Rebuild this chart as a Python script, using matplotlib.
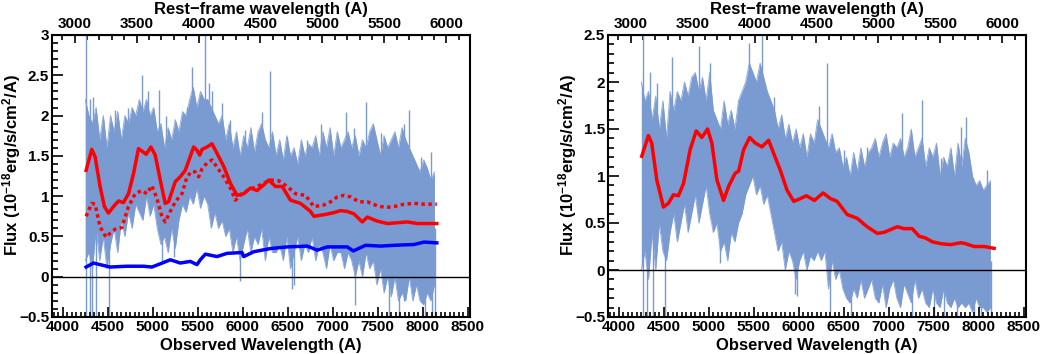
import numpy as np
import matplotlib
matplotlib.use('Agg')
import matplotlib.pyplot as plt
from matplotlib.ticker import MultipleLocator, FixedLocator

plt.rcParams['font.family'] = ['Liberation Sans', 'DejaVu Sans']
plt.rcParams['font.weight'] = 'bold'
plt.rcParams['mathtext.fontset'] = 'custom'
plt.rcParams['mathtext.rm'] = 'Liberation Sans:bold'
plt.rcParams['mathtext.bf'] = 'Liberation Sans:bold'
plt.rcParams['mathtext.default'] = 'bf'

# redshift used for the rest-frame axis on top
z_obj = 0.377
rest_ticks = [3000, 3500, 4000, 4500, 5000, 5500, 6000]

# observed spectrum, sampled every 40 A (upper / lower edge of the dense band)
wave = np.arange(4250, 8131, 40)

left_hi = [2.2, 2.0, 1.9, 2.1, 1.7, 2.0, 1.6, 2.0, 1.8, 2.05,
           1.7, 2.0, 1.9, 2.1, 2.0, 2.2, 2.05, 2.2, 2.0, 2.1,
           1.8, 1.9, 1.6, 1.85, 1.7, 1.95, 1.8, 2.05, 2.0, 2.2,
           2.35, 2.1, 2.3, 2.2, 2.2, 2.1, 2.0, 1.9, 2.0, 1.7,
           1.9, 1.6, 1.8, 1.5, 1.75, 1.6, 1.85, 1.55, 1.8, 1.9,
           1.7, 1.6, 1.8, 1.5, 1.7, 1.45, 1.75, 1.5, 1.6, 1.4,
           1.7, 1.5, 1.65, 1.6, 1.75, 1.5, 1.8, 1.6, 1.85, 1.5,
           1.8, 1.6, 1.7, 1.8, 1.6, 1.75, 1.5, 1.7, 1.6, 1.8,
           1.9, 1.7, 1.5, 1.75, 1.6, 1.7, 1.8, 1.6, 1.85, 1.7,
           1.6, 1.5, 1.4, 1.3, 1.45, 1.35, 1.2, 1.3]
left_lo = [0.2, 0.3, 0.1, 0.6, 0.2, 0.5, 0.1, 0.4, 0.6, 0.3,
           0.7, 0.5, 0.8, 0.6, 0.9, 0.8, 0.7, 1.0, 0.75, 0.9,
           0.6, 0.4, 0.5, 0.3, 0.6, 0.35, 0.7, 0.9, 0.8, 1.0,
           0.9, 1.1, 0.85, 1.0, 0.9, 0.6, 0.8, 0.6, 0.7, 0.5,
           0.6, 0.3, 0.5, 0.2, 0.4, 0.6, 0.3, 0.5, 0.4, 0.6,
           0.2, 0.5, 0.3, 0.3, 0.4, 0.2, 0.5, 0.1, 0.3, 0.5,
           0.2, 0.4, 0.3, 0.5, 0.2, 0.4, 0.3, 0.1, 0.4, 0.2,
           0.3, 0.3, 0.1, 0.3, 0.2, 0.0, 0.2, 0.0, 0.3, 0.1,
           0.2, -0.1, 0.1, -0.2, 0.0, -0.25, 0.0, -0.3, -0.2, -0.3,
           0.0, -0.3, -0.1, -0.3, -0.35, -0.2, -0.3, -0.1]

# thin spikes sticking out of the band (wavelength, one end, other end)
left_spike_w = [4262, 4300, 4340, 4452, 4582, 4730, 4878, 4950, 5071, 5150,
                5380, 5435, 5584, 5620, 5658, 5770, 5862, 6029, 6215, 6300,
                6493, 6716, 6864, 7143, 7236, 7365, 7533, 7792, 7848, 7978,
                8089,
                4330, 4370, 4515, 5101, 5240, 5973, 6549, 6570, 7243, 7620,
                7737, 7790, 8030, 8100, 8140]
left_spike_a = [-0.5, -0.5, 1.0, 0.9, 1.0, 1.0, 1.0, 1.0, 1.0, 0.9,
                1.0, 1.0, 1.0, 1.0, 1.0, 1.0, 0.9, 0.8, 0.8, 0.8,
                0.8, 0.8, 0.8, 0.8, 0.8, 0.8, 0.8, 0.8, 0.8, 0.7,
                0.7,
                1.0, 1.0, 1.0, 0.9, 0.9, 0.8, 0.8, 0.8, 0.6, 0.6,
                0.6, 0.6, 0.6, 0.6, 0.6]
left_spike_b = [3.0, 2.2, 2.23, 1.95, 2.07, 2.1, 2.5, 2.3, 2.32, 1.99,
                2.11, 2.6, 3.0, 2.4, 2.3, 2.15, 1.95, 1.82, 2.05, 2.55,
                1.74, 1.7, 1.9, 2.05, 1.85, 2.17, 1.78, 1.9, 2.07, 1.49,
                1.55,
                -0.5, -0.5, -0.5, 0.2, 0.25, -0.05, -0.15, -0.1, -0.35, -0.5,
                -0.5, -0.3, -0.5, -0.5, -0.5]

right_hi = [2.0, 1.8, 1.9, 1.6, 1.85, 1.5, 1.8, 1.4, 1.9, 1.7,
            1.9, 1.8, 2.0, 1.85, 2.05, 2.1, 1.9, 2.05, 1.8, 2.1,
            1.7, 1.6, 1.5, 1.8, 1.55, 1.7, 1.5, 1.8, 1.9, 2.0,
            2.2, 2.1, 2.0, 2.2, 2.05, 1.9, 1.8, 1.7, 1.5, 1.65,
            1.4, 1.55, 1.35, 1.5, 1.3, 1.45, 1.2, 1.45, 1.35, 1.6,
            1.5, 1.4, 1.3, 1.45, 1.25, 1.3, 1.1, 1.2, 1.0, 1.25,
            1.05, 1.3, 1.1, 1.25, 1.3, 1.4, 1.2, 1.35, 1.45, 1.2,
            1.35, 1.3, 1.4, 1.2, 1.3, 1.5, 1.2, 1.3, 1.4, 1.1,
            1.3, 1.2, 1.35, 1.0, 1.2, 1.1, 1.3, 1.0, 1.35, 1.1,
            1.4, 1.25, 1.0, 0.9, 0.95, 0.85, 0.9, 0.95]
right_lo = [0.0, 0.2, -0.1, 0.4, 0.0, 0.5, 0.2, 0.1, 0.4, 0.6,
            0.3, 0.5, 0.7, 0.4, 0.6, 0.8, 0.5, 0.7, 0.9, 0.6,
            0.4, 0.5, 0.2, 0.3, 0.1, 0.4, 0.3, 0.5, 0.6, 0.8,
            0.9, 1.0, 0.8, 0.9, 0.7, 0.8, 0.6, 0.4, 0.2, 0.3,
            0.0, 0.2, 0.1, -0.1, 0.1, 0.2, 0.0, 0.15, 0.1, 0.2,
            0.1, 0.2, -0.2, 0.1, -0.1, 0.0, -0.2, -0.3, -0.35, -0.2,
            -0.3, -0.1, -0.3, -0.2, -0.1, -0.3, -0.35, -0.15, -0.4, -0.2,
            -0.1, -0.3, -0.4, -0.15, -0.25, -0.35, -0.1, -0.3, -0.2, -0.35,
            -0.4, -0.2, -0.35, -0.4, -0.2, -0.35, -0.4, -0.3, -0.4, -0.35,
            -0.4, -0.35, -0.45, -0.3, -0.4, -0.4, -0.45, -0.4]

right_spike_w = [4266, 4347, 4422, 4589, 4737, 4886, 5016, 5183, 5331, 5443,
                 5591, 5721, 5925, 6129, 6222, 6315, 6500, 6760, 6927, 7150,
                 7280, 7373, 7577, 7800, 7855, 7985, 8097,
                 4273, 4310, 4377, 4515, 5127, 5962, 5981, 6345, 6575, 6742,
                 7094, 7261, 7503, 7614, 7763, 7948, 8022, 8134]
right_spike_a = [0.8, 0.8, 0.8, 1.0, 1.0, 1.0, 1.0, 0.8, 1.0, 1.0,
                 1.0, 1.0, 0.8, 0.8, 0.8, 0.8, 0.6, 0.6, 0.6, 0.6,
                 0.6, 0.6, 0.6, 0.6, 0.6, 0.5, 0.4,
                 0.6, 0.8, 0.6, 0.7, 0.5, 0.4, 0.4, 0.3, 0.2, 0.2,
                 0.2, 0.2, 0.1, 0.1, 0.1, 0.1, 0.1, 0.1]
right_spike_b = [2.5, 2.11, 1.99, 2.27, 1.95, 2.38, 2.2, 1.63, 1.81, 2.41,
                 2.5, 1.84, 1.38, 1.42, 1.74, 2.2, 1.28, 1.31, 1.21, 1.67,
                 1.24, 1.81, 1.19, 1.52, 1.63, 0.82, 1.06,
                 -0.5, -0.5, -0.5, -0.5, 0.07, -0.25, -0.28, -0.45, -0.5, -0.21,
                 -0.28, -0.5, -0.5, -0.5, -0.5, -0.5, -0.5, -0.5]

# left panel: total model (solid), second model (dotted), host component (blue)
model_w = [4259, 4322, 4359, 4414, 4463, 4507, 4563, 4619, 4674, 4730,
           4786, 4841, 4927, 4979, 5027, 5083, 5138, 5175, 5250, 5305,
           5361, 5454, 5491, 5521, 5547, 5602, 5658, 5714, 5788, 5862,
           5936, 6011, 6085, 6159, 6233, 6289, 6363, 6438, 6530, 6642,
           6753, 6790, 6902, 6994, 7087, 7161, 7236, 7328, 7384, 7495,
           7607, 7718, 7830, 7941, 8052, 8156]
model_f = [1.32, 1.58, 1.49, 1.12, 0.87, 0.79, 0.87, 0.94, 0.92, 1.03,
           1.28, 1.59, 1.52, 1.61, 1.51, 1.20, 0.91, 0.93, 1.18, 1.24,
           1.32, 1.61, 1.57, 1.51, 1.58, 1.61, 1.65, 1.53, 1.37, 1.16,
           1.01, 1.03, 1.10, 1.07, 1.14, 1.20, 1.12, 1.12, 0.95, 0.91,
           0.81, 0.75, 0.77, 0.79, 0.82, 0.81, 0.78, 0.68, 0.74, 0.69,
           0.66, 0.67, 0.68, 0.66, 0.66, 0.66]

dot_w = [4259, 4322, 4359, 4414, 4481, 4526, 4582, 4656, 4730, 4804,
         4878, 4934, 4990, 5046, 5101, 5138, 5194, 5250, 5324, 5380,
         5435, 5473, 5510, 5547, 5602, 5658, 5714, 5788, 5862, 5918,
         5992, 6066, 6159, 6233, 6308, 6400, 6493, 6586, 6697, 6790,
         6902, 6976, 7050, 7124, 7199, 7291, 7384, 7495, 7588, 7681,
         7792, 7904, 8015, 8156]
dot_f = [0.75, 0.91, 0.90, 0.62, 0.49, 0.54, 0.59, 0.61, 0.87, 1.03,
         1.07, 1.03, 1.13, 0.97, 0.75, 0.68, 0.81, 0.93, 1.03, 1.24,
         1.31, 1.30, 1.24, 1.34, 1.41, 1.45, 1.36, 1.24, 1.10, 0.95,
         1.03, 1.08, 1.12, 1.16, 1.20, 1.19, 1.12, 1.03, 1.01, 0.87,
         0.89, 0.93, 0.99, 1.01, 0.99, 0.93, 0.93, 0.88, 0.86, 0.87,
         0.90, 0.91, 0.90, 0.90]

host_w = [4259, 4340, 4414, 4526, 4711, 4897, 4990, 5083, 5194, 5305,
          5417, 5491, 5528, 5584, 5714, 5825, 5992, 6011, 6122, 6308,
          6493, 6716, 6827, 6939, 7161, 7228, 7365, 7532, 7681, 7904,
          8015, 8156]
host_f = [0.12, 0.17, 0.15, 0.12, 0.13, 0.13, 0.12, 0.16, 0.21, 0.17,
          0.19, 0.15, 0.21, 0.28, 0.25, 0.29, 0.30, 0.25, 0.31, 0.35,
          0.37, 0.38, 0.33, 0.37, 0.37, 0.32, 0.39, 0.38, 0.39, 0.40,
          0.43, 0.42]

# right panel: smooth model
fit_w = [4255, 4329, 4366, 4422, 4496, 4552, 4607, 4663, 4719, 4793,
         4860, 4923, 4986, 5034, 5090, 5164, 5220, 5294, 5331, 5387,
         5454, 5517, 5591, 5665, 5721, 5795, 5869, 5944, 6018, 6085,
         6174, 6270, 6352, 6426, 6538, 6649, 6760, 6872, 6946, 7020,
         7094, 7169, 7261, 7336, 7410, 7484, 7577, 7688, 7800, 7855,
         7948, 8060, 8171]
fit_f = [1.21, 1.43, 1.35, 0.96, 0.67, 0.71, 0.80, 0.79, 0.92, 1.28,
         1.48, 1.41, 1.50, 1.35, 0.96, 0.74, 0.89, 1.03, 1.05, 1.28,
         1.41, 1.35, 1.31, 1.38, 1.24, 1.06, 0.85, 0.73, 0.76, 0.79,
         0.74, 0.82, 0.76, 0.73, 0.59, 0.55, 0.46, 0.39, 0.40, 0.43,
         0.46, 0.44, 0.44, 0.36, 0.34, 0.30, 0.28, 0.27, 0.29, 0.28,
         0.25, 0.25, 0.23]

spec_color = '#7a9ad2'
ylabel = r'Flux (10$^{-18}$erg/s/cm$^{2}$/A)'


def draw_spectrum(ax, hi, lo, sp_w, sp_a, sp_b):
    ax.fill_between(wave, lo, hi, color=spec_color, lw=0, zorder=1)
    ax.plot(wave, hi, color=spec_color, lw=0.7, alpha=0.8, zorder=1)
    ax.plot(wave, lo, color=spec_color, lw=0.7, alpha=0.8, zorder=1)
    ax.vlines(sp_w, sp_a, sp_b, color=spec_color, lw=1.0, zorder=1)


def setup_axes(ax, ymin, ymax):
    ax.set_xlim(3880, 8525)
    ax.set_ylim(ymin, ymax)
    ax.axhline(0, color='black', lw=1.0, zorder=3)
    ax.xaxis.set_major_locator(MultipleLocator(500))
    ax.xaxis.set_minor_locator(MultipleLocator(50))
    ax.yaxis.set_major_locator(MultipleLocator(0.5))
    ax.yaxis.set_minor_locator(MultipleLocator(0.1))
    ax.tick_params(which='both', direction='in', top=False, right=False,
                   labelsize=11, width=1.2)
    ax.tick_params(axis='x', which='major', length=7, pad=2)
    ax.tick_params(axis='x', which='minor', length=3.5)
    ax.tick_params(axis='y', which='major', length=8, pad=2)
    ax.tick_params(axis='y', which='minor', length=4)
    ax.yaxis.set_major_formatter(plt.FuncFormatter(lambda v, p: f'{v:g}'.replace('-', '\u2212')))
    for s in ax.spines.values():
        s.set_linewidth(1.5)
    ax.set_xlabel('Observed Wavelength (A)', fontsize=12, fontweight='bold')
    ax.xaxis.set_label_coords(0.5, -0.075)
    ax.set_ylabel(ylabel, fontsize=12, fontweight='bold')
    ax.yaxis.set_label_coords(-0.07, 0.54)

    top = ax.secondary_xaxis('top', functions=(lambda x: x / (1 + z_obj),
                                               lambda x: x * (1 + z_obj)))
    top.xaxis.set_major_locator(FixedLocator(rest_ticks))
    top.xaxis.set_minor_locator(FixedLocator(np.arange(2900, 6200, 100)))
    top.tick_params(which='both', direction='in', labelsize=11, width=1.2)
    top.tick_params(which='major', length=6, pad=3)
    top.tick_params(which='minor', length=3.5)
    top.set_xlabel('Rest\u2212frame wavelength (A)', fontsize=12,
                   fontweight='bold', labelpad=2)


fig = plt.figure(figsize=(10.43, 3.54), dpi=100)
ax1 = fig.add_axes([52 / 1043, 37 / 354, 418 / 1043, 282 / 354])
ax2 = fig.add_axes([608 / 1043, 37 / 354, 418 / 1043, 282 / 354])

# left panel
draw_spectrum(ax1, left_hi, left_lo, left_spike_w, left_spike_a, left_spike_b)
ax1.plot(model_w, model_f, color='red', lw=2.5, zorder=4)
ax1.plot(dot_w, dot_f, color='red', lw=2.5, ls=(0, (1, 1)), zorder=4)
ax1.plot(host_w, host_f, color='blue', lw=2.5, zorder=4)
setup_axes(ax1, -0.5, 3.0)

# right panel
draw_spectrum(ax2, right_hi, right_lo, right_spike_w, right_spike_a, right_spike_b)
ax2.plot(fit_w, fit_f, color='red', lw=2.5, zorder=4)
setup_axes(ax2, -0.5, 2.5)

fig.savefig('out.png', dpi=100)
